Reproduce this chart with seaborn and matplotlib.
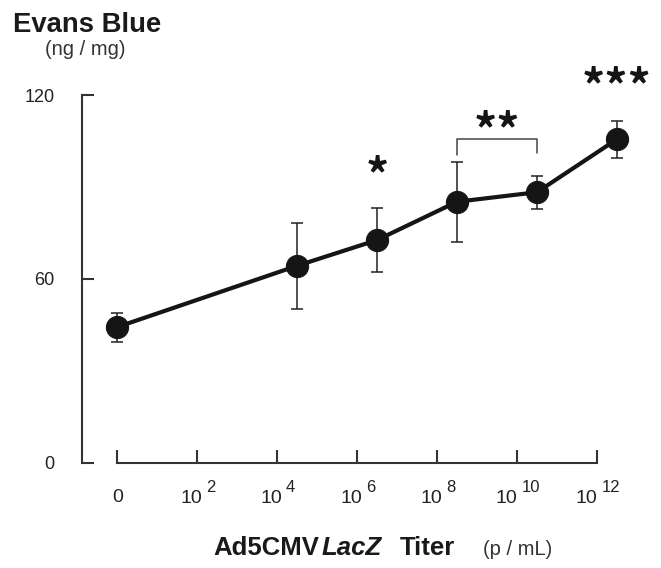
import numpy as np
import pandas as pd
import matplotlib
matplotlib.use("Agg")
import matplotlib.pyplot as plt
import seaborn as sns

# ---- data ----
titer_exponent = [0, 4.5, 6.5, 8.5, 10.5, 12.5]   # log10 titer (0 = no virus)
evans_blue = [44.3, 64.3, 72.7, 85.2, 88.3, 105.6]  # ng / mg
evans_sem = [4.7, 14.1, 10.3, 13.1, 5.4, 6.0]

x_ticks = [0, 2, 4, 6, 8, 10, 12]
x_tick_base = ["0", "10", "10", "10", "10", "10", "10"]
x_tick_sup = ["", "2", "4", "6", "8", "10", "12"]
y_ticks = [0, 60, 120]
y_tick_labels = ["0", "60", "120"]

sig_labels = ["*", "**", "***"]
sig_x = [6.5, 9.5, 12.5]
sig_y = [97.2, 111.7, 126.2]
bracket_x = [8.5, 10.5]
bracket_top = 105.6
bracket_ends = [100.4, 101.1]

title_text = "Evans Blue"
title_units = "(ng / mg)"
xlabel_parts = ["Ad5CMV", "LacZ", "Titer", "(p / mL)"]

# ---- style ----
sns.set_theme(style="white")
plt.rcParams["font.family"] = ["Liberation Sans", "DejaVu Sans"]
INK = "#151515"
AX = "#333333"

fig = plt.figure(figsize=(6.61, 5.68), dpi=100)
ax = fig.add_axes([0.1241, 0.1795, 0.8699, 0.6964])

df = pd.DataFrame({"x": titer_exponent, "y": evans_blue, "sem": evans_sem})

ax.errorbar(df["x"], df["y"], yerr=df["sem"], fmt="none", ecolor="#222222",
            elinewidth=1.1, capsize=4, capthick=1.1, zorder=2)
sns.lineplot(data=df, x="x", y="y", ax=ax, color=INK, linewidth=3,
             marker="o", markersize=16, markeredgecolor=INK,
             markerfacecolor=INK, errorbar=None, zorder=3)

ax.set_xlim(-0.875, 13.5)
ax.set_ylim(-1, 128)
ax.grid(False)
for s in ["top", "right"]:
    ax.spines[s].set_visible(False)
ax.spines["left"].set_bounds(0, 120)
ax.spines["bottom"].set_position(("data", 0))
ax.spines["bottom"].set_bounds(0, 12)
for s in ["left", "bottom"]:
    ax.spines[s].set_linewidth(1.5)
    ax.spines[s].set_color(AX)

ax.set_yticks(y_ticks)
ax.set_yticklabels(y_tick_labels)
ax.set_xticks(x_ticks)
ax.set_xticklabels([""] * len(x_ticks))
ax.tick_params(axis="y", which="major", left=True, direction="in",
               length=8.6, width=1.5, color=AX, labelsize=13, pad=20,
               labelcolor="#222222")
ax.tick_params(axis="x", which="major", bottom=True, direction="in",
               length=9.4, width=1.5, color=AX, labelbottom=False)
ax.set_xlabel("")
ax.set_ylabel("")

PX = 0.72  # points per pixel at 100 dpi

# x tick labels: "10" with a superscript exponent
for t, base, sup in zip(x_ticks, x_tick_base, x_tick_sup):
    if not sup:
        ax.annotate(base, xy=(t, 0), xytext=(0.5 * PX, -39 * PX),
                    textcoords="offset points", ha="center", va="baseline",
                    fontsize=14, color="#222222", annotation_clip=False)
    else:
        right = 5 if len(sup) == 1 else 0.5
        ax.annotate(base, xy=(t, 0), xytext=(right * PX, -40 * PX),
                    textcoords="offset points", ha="right", va="baseline",
                    fontsize=14, color="#222222", annotation_clip=False)
        ax.annotate(sup, xy=(t, 0), xytext=((right + 4) * PX, -29 * PX),
                    textcoords="offset points", ha="left", va="baseline",
                    fontsize=12, color="#222222", annotation_clip=False)

# significance bracket
ax.plot([bracket_x[0], bracket_x[0], bracket_x[1], bracket_x[1]],
        [bracket_ends[0], bracket_top, bracket_top, bracket_ends[1]],
        color="#444444", linewidth=1.1, zorder=2)

# significance stars
STAR_FS = 33
for lab, sx, sy in zip(sig_labels, sig_x, sig_y):
    ax.annotate(lab, xy=(sx, sy), xytext=(0, -0.55 * STAR_FS),
                textcoords="offset points", ha="center", va="baseline",
                fontsize=STAR_FS, fontweight="bold", color=INK,
                family=["Noto Sans CJK SC", "DejaVu Sans"],
                annotation_clip=False)

# titles
W, H = 661, 568
fig.text(13 / W, 1 - 32 / H, title_text, fontsize=19.8, fontweight="bold",
         va="baseline", ha="left", color="#1a1a1a")
fig.text(45 / W, 1 - 55 / H, title_units, fontsize=14.5,
         va="baseline", ha="left", color="#333333")

# x axis title built from styled pieces
renderer = fig.canvas.get_renderer()
styles = [("bold", "normal", 18.5), ("bold", "italic", 18.5),
          ("bold", "normal", 18.5), ("normal", "normal", 14.5)]
gaps = [0, 3, 18, 28]
x_px = 213
for part, (wt, st, fs), gap in zip(xlabel_parts, styles, gaps):
    x_px += gap
    t = fig.text(x_px / W, 1 - 555 / H, part, fontsize=fs, fontweight=wt,
                 fontstyle=st, va="baseline", ha="left",
                 color="#1a1a1a" if wt == "bold" else "#333333")
    x_px = t.get_window_extent(renderer).x1

fig.savefig("out.png", dpi=100)
